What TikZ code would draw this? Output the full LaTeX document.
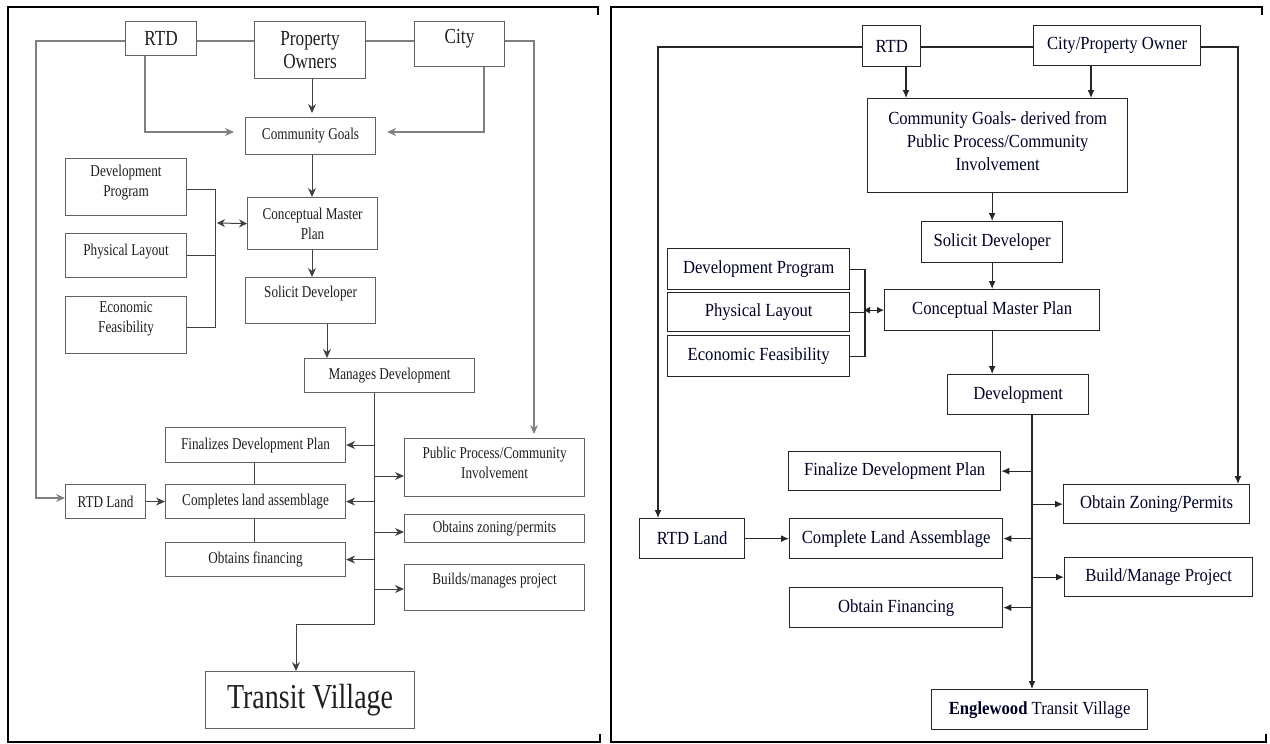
\documentclass[tikz,border=0pt]{standalone}
\usepackage{fontspec}
\setmainfont{Liberation Serif}
\newfontfamily\lfont[FakeStretch=0.8]{Liberation Serif}
\newfontfamily\rfont[FakeStretch=0.9]{Liberation Serif}
\usetikzlibrary{arrows.meta}
\newcommand\upby[2]{\raisebox{#1}[\height][\depth]{#2}}
\newcommand\bx[7]{\node[#6, anchor=north west, minimum width=#4pt-#2pt, minimum height=#5pt-#3pt] (#1) at (#2,#3) {#7};}
\begin{document}
\begin{tikzpicture}[x=1pt,y=-1pt,
 lbox/.style={draw=black!62, line width=1.1pt, fill=white, font=\lfont\fontsize{16.5}{20}\selectfont, text=black!88, align=center, inner sep=1pt},
 ltop/.style={lbox, font=\lfont\fontsize{21.5}{23}\selectfont},
 rbox/.style={draw=black!85, line width=1.3pt, fill=white, font=\rfont\fontsize{18.5}{23}\selectfont, text=black!85!blue, align=center, inner sep=1pt},
 lline/.style={draw=black!75, line width=1pt},
 lout/.style={draw=black!50, line width=1.1pt},
 larr/.style={-{Stealth[length=9pt,width=8pt]}},
 rline/.style={draw=black!85, line width=1.2pt},
 rarr/.style={-{Latex[length=8pt,width=7pt]}},
 frame/.style={line width=2.6pt, black}]
\useasboundingbox (0,0) rectangle (1270,744);
% ---------- left panel ----------
\bx{lrtd}{125}{21}{196}{55}{ltop}{RTD}
\bx{lpo}{254}{21}{365}{78}{ltop}{Property\\Owners}
\bx{lcity}{414}{21}{504}{66}{ltop}{\upby{5pt}{City}}
\bx{lcg}{245}{117}{375}{154}{lbox}{Community Goals}
\bx{ldp}{65}{158}{186}{215}{lbox}{\upby{4pt}{Development}\\\upby{4pt}{Program}}
\bx{lcmp}{247}{197}{377}{249}{lbox}{Conceptual Master\\Plan}
\bx{lpl}{65}{233}{186}{277}{lbox}{\upby{4pt}{Physical Layout}}
\bx{lef}{65}{296}{186}{353}{lbox}{\upby{6pt}{Economic}\\\upby{6pt}{Feasibility}}
\bx{lsd}{245}{277}{375}{323}{lbox}{\upby{7pt}{Solicit Developer}}
\bx{lmd}{304}{358}{474}{392}{lbox}{Manages Development}
\bx{lfin}{165}{427}{345}{462}{lbox}{Finalizes Development Plan}
\bx{lpp}{404}{438}{584}{496}{lbox}{\upby{5pt}{Public Process/Community}\\\upby{5pt}{Involvement}}
\bx{lland}{65}{484}{145}{518}{lbox}{RTD Land}
\bx{lcomp}{165}{484}{345}{518}{lbox}{Completes land assemblage}
\bx{lzon}{404}{514}{584}{542}{lbox}{Obtains zoning/permits}
\bx{lfinc}{165}{542}{345}{576}{lbox}{Obtains financing}
\bx{lbuild}{404}{564}{584}{610}{lbox}{\upby{7pt}{Builds/manages project}}
\bx{ltv}{205}{671}{414}{728}{lbox, font=\lfont\fontsize{35}{40}\selectfont}{Transit Village}
% left connectors
\draw[lout,larr] (lrtd.west |- 0,41) -| (36,498) -- (lland.west |- 0,498);
\draw[lout] (lrtd.east |- 0,41) -- (lpo.west |- 0,41);
\draw[lout] (lpo.east |- 0,41) -- (lcity.west |- 0,41);
\draw[lout,larr,shorten >=4pt] (lcity.east |- 0,41) -| (lpp.north -| 534,0);
\draw[lout,larr,shorten >=11pt] (lrtd.south -| 145,0) -- (145,132) -- (lcg.west |- 0,132);
\draw[lout,larr,shorten >=11pt] (lcity.south -| 484,0) -- (484,132) -- (lcg.east |- 0,132);
\draw[lline,larr,shorten >=4pt] (lpo.south -| 312,0) -- (lcg.north -| 312,0);
\draw[lline,larr] (lcg.south -| 312,0) -- (lcmp.north -| 312,0);
\draw[lline,larr] (lcmp.south -| 312,0) -- (lsd.north -| 312,0);
\draw[lline,larr] (lsd.south -| 327,0) -- (lmd.north -| 327,0);
\draw[lline] (ldp.east |- 0,189) -- (215,189) -- (215,327) -- (lef.east |- 0,327);
\draw[lline] (lpl.east) -- (lpl.east -| 215,0);
\draw[lline,{Stealth[length=8pt,width=8pt]}-{Stealth[length=8pt,width=8pt]}] (217,223) -- (lcmp.west);
\draw[lline,larr] (lmd.south -| 374,0) -- (374,624) -| (ltv.north -| 296,0);
\draw[lline,larr] (lfin.east -| 374,0) -- (lfin.east);
\draw[lline,larr] (lcomp.east -| 374,0) -- (lcomp.east);
\draw[lline,larr] (lfinc.east -| 374,0) -- (lfinc.east);
\draw[lline,larr] (374,476) -- (lpp.west |- 0,476);
\draw[lline,larr] (374,532) -- (lzon.west |- 0,532);
\draw[lline,larr] (374,589) -- (lbuild.west |- 0,589);
\draw[lline] (lfin.south -| 254,0) -- (lcomp.north -| 254,0);
\draw[lline] (lcomp.south -| 254,0) -- (lfinc.north -| 254,0);
\draw[lline,larr] (lland.east) -- (lcomp.west);
% ---------- right panel ----------
\bx{rrtd}{862}{25}{920}{66}{rbox}{RTD}
\bx{rcity}{1033}{25}{1200}{65}{rbox}{City/Property Owner}
\bx{rcg}{867}{98}{1127}{192}{rbox}{\upby{5pt}{Community Goals- derived from}\\\upby{5pt}{Public Process/Community}\\\upby{5pt}{Involvement}}
\bx{rsd}{921}{221}{1062}{262}{rbox}{Solicit Developer}
\bx{rdp}{667}{248}{849}{289}{rbox}{Development Program}
\bx{rpl}{667}{292}{849}{331}{rbox}{Physical Layout}
\bx{ref}{667}{335}{849}{376}{rbox}{Economic Feasibility}
\bx{rcmp}{884}{289}{1099}{330}{rbox}{Conceptual Master Plan}
\bx{rdev}{947}{374}{1088}{414}{rbox}{Development}
\bx{rfin}{788}{451}{1000}{490}{rbox}{Finalize Development Plan}
\bx{rzon}{1063}{484}{1249}{523}{rbox}{Obtain Zoning/Permits}
\bx{rland}{639}{518}{744}{558}{rbox}{RTD Land}
\bx{rcomp}{789}{518}{1002}{558}{rbox}{Complete Land Assemblage}
\bx{rbuild}{1064}{557}{1252}{596}{rbox}{Build/Manage Project}
\bx{rfinc}{789}{587}{1002}{627}{rbox}{Obtain Financing}
\bx{reng}{931}{689}{1147}{729}{rbox}{\textbf{Englewood} Transit Village}
% right connectors
\draw[rline,rarr] (rrtd.west |- 0,47) -| (rland.north -| 658,0);
\draw[rline] (rrtd.east |- 0,47) -- (rcity.west |- 0,47);
\draw[rline,rarr] (rcity.east |- 0,47) -| (rzon.north -| 1238,0);
\draw[rline,rarr] (rrtd.south -| 906,0) -- (rcg.north -| 906,0);
\draw[rline,rarr] (rcity.south -| 1091,0) -- (rcg.north -| 1091,0);
\draw[rline,rarr] (rcg.south -| rsd.north) -- (rsd.north);
\draw[rline,rarr] (rsd.south) -- (rcmp.north);
\draw[rline,rarr] (rcmp.south) -- (rdev.north -| rcmp.south);
\draw[rline,rarr] (rdev.south -| 1032,0) -- (reng.north -| 1032,0);
\draw[rline,rarr] (rfin.east -| 1032,0) -- (rfin.east);
\draw[rline,rarr] (rcomp.east -| 1032,0) -- (rcomp.east);
\draw[rline,rarr] (rfinc.east -| 1032,0) -- (rfinc.east);
\draw[rline,rarr] (rzon.west -| 1032,0) -- (rzon.west);
\draw[rline,rarr] (rbuild.west -| 1032,0) -- (rbuild.west);
\draw[rline,rarr] (rland.east) -- (rcomp.west);
\draw[rline] (rdp.east) -- (rdp.east -| 865,0) -- (ref.east -| 865,0) -- (ref.east);
\draw[rline] (rpl.east) -- (rpl.east -| 865,0);
\draw[rline,{Latex[length=7pt,width=7pt]}-{Latex[length=7pt,width=7pt]}] (rcmp.west -| 863,0) -- (rcmp.west);
% ---------- frames ----------
\draw[frame] (598,15) -- (598,7) -- (8,7) -- (8,742) -- (600,742) -- (600,734);
\draw[frame] (1262,15) -- (1262,7) -- (611,7) -- (611,742) -- (1266,742) -- (1266,734);
\end{tikzpicture}
\end{document}
